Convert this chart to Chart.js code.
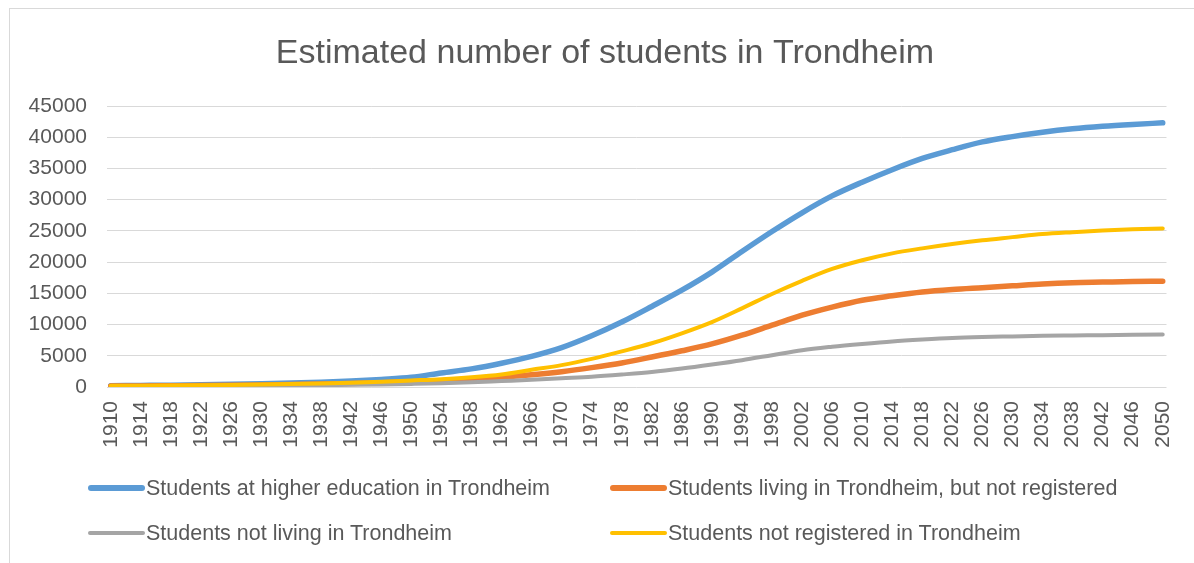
<!DOCTYPE html>
<html><head><meta charset="utf-8">
<script src="https://cdn.jsdelivr.net/npm/chart.js@4.4.1/dist/chart.umd.min.js"></script>
<style>
html,body{margin:0;padding:0;background:#fff;width:1194px;height:563px;overflow:hidden}
#frame{position:absolute;left:9px;top:8px;width:1300px;height:700px;border-left:1px solid #d9d9d9;border-top:1px solid #d9d9d9}
#wrap{position:absolute;left:0;top:0;width:1194px;height:563px}
#legend{position:absolute;left:0;top:0;width:1194px;height:563px;pointer-events:none;font-family:"Liberation Sans",Arial,sans-serif;font-size:21.5px;color:#595959}
.item{position:absolute;height:26px;display:flex;align-items:center;white-space:nowrap}
.swatch{width:57px;border-radius:3px;margin-right:1px}
</style></head><body>
<div id="frame"></div>
<div id="wrap"><canvas id="c" width="1194" height="563"></canvas></div>
<div id="legend"></div>
<script>
const years = [1910,1914,1918,1922,1926,1930,1934,1938,1942,1946,1950,1954,1958,1962,1966,1970,1974,1978,1982,1986,1990,1994,1998,2002,2006,2010,2014,2018,2022,2026,2030,2034,2038,2042,2046,2050];
const tickYears = [1910,1914,1918,1922,1926,1930,1934,1938,1942,1946,1950,1954,1958,1962,1966,1970,1974,1978,1982,1986,1990,1994,1998,2002,2006,2010,2014,2018,2022,2026,2030,2034,2038,2042,2046,2050];
const yTicks = [0,5000,10000,15000,20000,25000,30000,35000,40000,45000];
const seriesNames = ["Students at higher education in Trondheim","Students living in Trondheim, but not registered","Students not living in Trondheim","Students not registered in Trondheim"];
const higherEducation = [200,250,300,360,430,520,630,780,970,1220,1550,2250,2900,3800,4900,6300,8200,10400,12900,15500,18400,21700,24900,27900,30600,32800,34800,36600,38000,39250,40100,40800,41350,41750,42050,42300];
const livingNotRegistered = [150,170,200,230,270,320,390,470,570,700,850,1000,1250,1550,1950,2450,3100,3850,4800,5800,6900,8300,9900,11500,12800,13900,14600,15200,15600,15900,16200,16500,16700,16800,16900,16950];
const notLiving = [100,110,130,150,170,200,240,290,350,420,500,600,750,950,1150,1400,1650,2000,2400,2950,3600,4300,5100,5900,6450,6900,7300,7600,7850,8000,8100,8200,8250,8300,8350,8400];
const notRegistered = [200,220,250,290,340,400,480,580,700,860,1050,1250,1550,2000,2750,3500,4500,5700,7000,8600,10400,12600,14900,17000,18900,20300,21400,22200,22900,23500,24000,24500,24800,25050,25250,25400];

const colors = ['#5B9BD5','#ED7D31','#A5A5A5','#FFC000'];
const widths = [5.5,5.5,4,4];
const seriesData = [higherEducation, livingNotRegistered, notLiving, notRegistered];
const FONT = '"Liberation Sans", Arial, sans-serif';
const TXT = '#595959';

const datasets = seriesData.map((vals,i)=>({
  label: seriesNames[i],
  data: years.map((y,j)=>({x:y, y:vals[j]})),
  borderColor: colors[i],
  backgroundColor: colors[i],
  borderWidth: widths[i],
  borderCapStyle: 'round',
  borderJoinStyle: 'round',
  pointRadius: 0,
  cubicInterpolationMode: 'monotone',
  fill: false,
  order: 4 - i
}));

// centre the title over the framed chart (as in the reference) rather than the canvas minus right padding
const titleShift = {
  id: 'titleShift',
  afterLayout(chart) { if (chart.titleBlock) { chart.titleBlock.left = 37; chart.titleBlock.right = 1173; } }
};

const chart = new Chart(document.getElementById('c'), {
  type: 'line',
  data: { datasets },
  plugins: [titleShift],
  options: {
    responsive: false,
    animation: false,
    devicePixelRatio: 1,
    layout: { padding: { top: 0, right: 21, bottom: 106, left: 0 } },
    plugins: {
      legend: { display: false },
      tooltip: { enabled: false },
      title: {
        display: true,
        text: 'Estimated number of students in Trondheim',
        color: TXT,
        font: { family: FONT, size: 34, weight: 'normal' },
        padding: { top: 33, bottom: 32.2 }
      }
    },
    scales: {
      x: {
        type: 'linear', min: 1909.5, max: 2050.5,
        grid: { display: false }, border: { display: false },
        afterBuildTicks: s => { s.ticks = tickYears.map(v => ({ value: v })); },
        afterFit: s => { s.height = 70; },
        ticks: {
          autoSkip: false, maxRotation: 90, minRotation: 90, padding: 6,
          color: TXT, font: { family: FONT, size: 21 },
          callback: v => String(v)
        }
      },
      y: {
        min: 0, max: 45000,
        afterBuildTicks: s => { s.ticks = yTicks.map(v => ({ value: v })); },
        afterFit: s => { s.width = 107; },
        grid: { color: '#d9d9d9', lineWidth: 1, drawTicks: false },
        border: { display: false },
        ticks: { padding: 20, color: TXT, font: { family: FONT, size: 21 }, callback: v => String(v) }
      }
    }
  }
});

// HTML legend built from the chart's datasets
const legendPos = [[88,475],[610,475],[88,520],[610,520]];
const leg = document.getElementById('legend');
chart.data.datasets.forEach((ds,i)=>{
  const it = document.createElement('div');
  it.className = 'item';
  it.style.left = legendPos[i][0] + 'px';
  it.style.top = legendPos[i][1] + 'px';
  const sw = document.createElement('div');
  sw.className = 'swatch';
  sw.style.height = ds.borderWidth + 'px';
  sw.style.background = ds.borderColor;
  const tx = document.createElement('span');
  tx.textContent = ds.label;
  it.appendChild(sw); it.appendChild(tx);
  leg.appendChild(it);
});
</script>
</body></html>
